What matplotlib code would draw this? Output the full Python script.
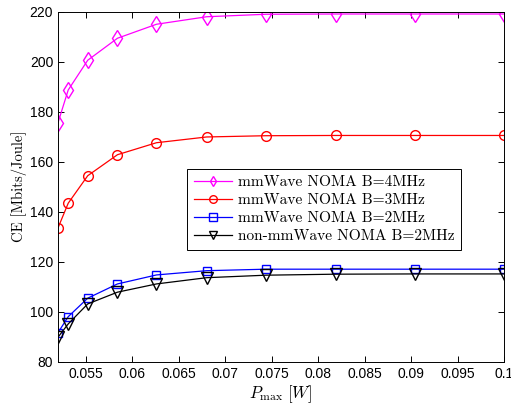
import matplotlib
matplotlib.use("Agg")
import matplotlib.pyplot as plt

pmax = [0.052, 0.0531, 0.0552, 0.0584, 0.0626, 0.068, 0.0744, 0.0819, 0.0904, 0.1]
ce_4mhz = [175.6, 188.7, 200.6, 209.4, 215.0, 218.0, 219.0, 219.1, 219.1, 219.1]
ce_3mhz = [133.5, 143.4, 154.4, 162.8, 167.6, 169.9, 170.4, 170.5, 170.5, 170.5]
ce_2mhz = [91.6, 98.0, 105.4, 111.1, 114.7, 116.4, 117.0, 117.0, 117.0, 117.0]
ce_non = [89.8, 95.1, 103.1, 107.8, 111.1, 113.6, 114.6, 115.0, 115.1, 115.1]
labels = ['mmWave NOMA B=4MHz', 'mmWave NOMA B=3MHz',
          'mmWave NOMA B=2MHz', 'non-mmWave NOMA B=2MHz']
xticks = [0.055, 0.06, 0.065, 0.07, 0.075, 0.08, 0.085, 0.09, 0.095, 0.1]
xticklabels = ['0.055', '0.06', '0.065', '0.07', '0.075', '0.08', '0.085', '0.09', '0.095', '0.1']
yticks = [80, 100, 120, 140, 160, 180, 200, 220]

plt.rcParams['mathtext.fontset'] = 'cm'
plt.rcParams['font.family'] = 'Liberation Sans'

fig = plt.figure(figsize=(5.11, 4.05), dpi=100)
ax = fig.add_axes([0.1135, 0.107, 0.8728, 0.864])

ax.plot(pmax, ce_4mhz, color='#ff00ff', marker='d', mfc='none', ms=8, lw=0.9, label=labels[0])
ax.plot(pmax, ce_3mhz, color='#ff0000', marker='o', mfc='none', ms=7, lw=0.9, label=labels[1])
ax.plot(pmax, ce_2mhz, color='#0000ff', marker='s', mfc='none', ms=6, lw=0.9, label=labels[2])
ax.plot(pmax, ce_non, color='black', marker='v', mfc='none', ms=8, lw=0.9, label=labels[3])

ax.set_xlim(0.052, 0.1)
ax.set_ylim(80, 220)
ax.set_xticks(xticks)
ax.set_xticklabels(xticklabels)
ax.set_yticks(yticks)
ax.tick_params(direction='in', top=True, right=True, labelsize=10, length=4, width=0.7)
for s in ax.spines.values():
    s.set_linewidth(0.7)

ax.set_xlabel(r'$P_{\max}\ [W]$', fontsize=12, labelpad=2)
ax.set_ylabel('CE [Mbits/Joule]', fontsize=10.5, labelpad=2, family='cmr10')

leg = ax.legend(loc='lower left', bbox_to_anchor=(0.289, 0.319), prop={'family': 'cmr10', 'size': 11.1},
                handlelength=2.5, fancybox=False, edgecolor='black', framealpha=1, borderpad=0.45,
                labelspacing=0.27, handletextpad=0.35, borderaxespad=0)
leg.get_frame().set_linewidth(0.7)
for h in leg.legend_handles:
    h.set_markersize(5.5)

fig.savefig('out.png', dpi=100)
